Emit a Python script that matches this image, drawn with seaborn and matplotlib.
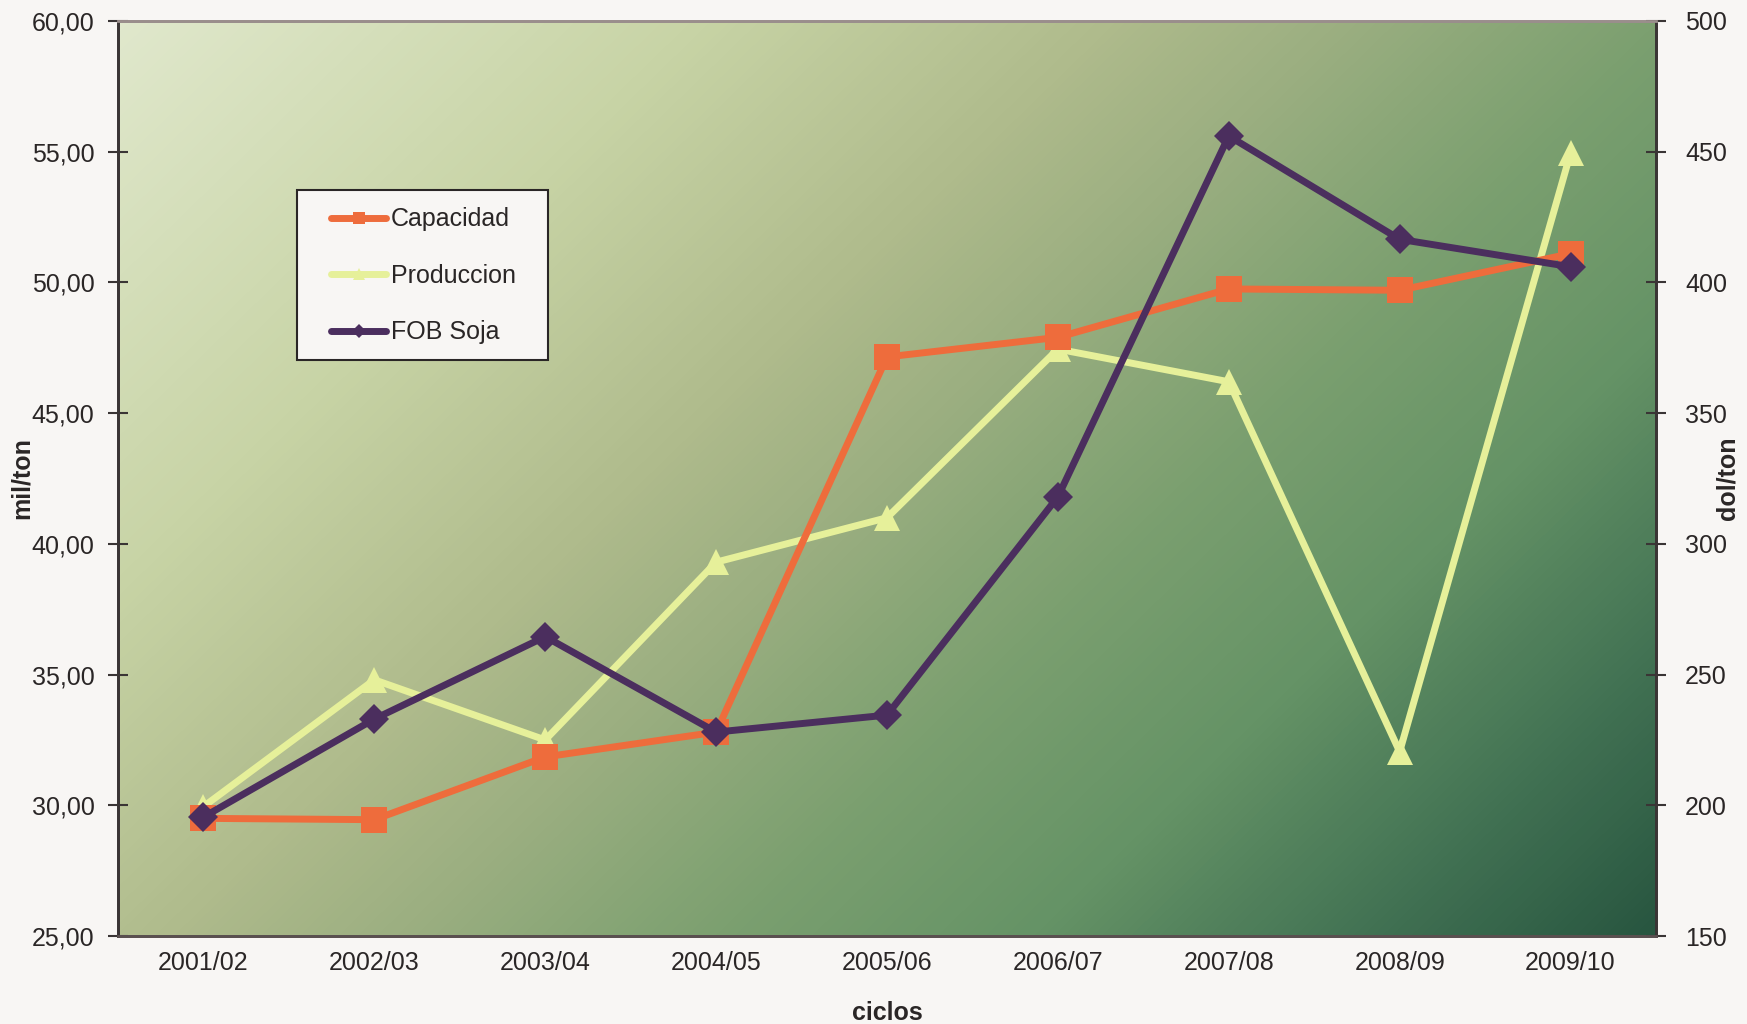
import numpy as np
import pandas as pd
import matplotlib
matplotlib.use("Agg")
import matplotlib.pyplot as plt
from matplotlib.colors import LinearSegmentedColormap
from matplotlib.lines import Line2D
from matplotlib.patches import Rectangle
import seaborn as sns

ciclos = ["2001/02", "2002/03", "2003/04", "2004/05", "2005/06",
          "2006/07", "2007/08", "2008/09", "2009/10"]
capacidad = [29.5, 29.45, 31.85, 32.8, 47.15, 47.9, 49.75, 49.7, 51.1]
produccion = [29.95, 34.8, 32.5, 39.3, 41.0, 47.45, 46.2, 32.05, 54.95]
fob_soja = [195.5, 233, 264.5, 228, 234.5, 318, 456, 416.5, 406]

left_ticks = [25, 30, 35, 40, 45, 50, 55, 60]
right_ticks = [150, 200, 250, 300, 350, 400, 450, 500]

sns.set_theme(style="white")
plt.rcParams['font.family'] = ['Liberation Sans', 'DejaVu Sans']

df = pd.DataFrame({"pos": np.arange(len(ciclos)), "ciclo": ciclos,
                   "Capacidad": capacidad, "Produccion": produccion,
                   "FOB Soja": fob_soja})

bg = "#f8f6f4"
c_cap = "#ee6c3c"
c_prod = "#e6f09a"
c_fob = "#4b2e5e"
tc = "#2a2626"
fs = 18

fig = plt.figure(figsize=(17.47, 10.24), dpi=100, facecolor=bg)
W, H = 1747, 1024
ax = fig.add_axes([118 / W, 1 - 936 / H, 1538 / W, 915 / H])
ax.set_facecolor(bg)

# gradient background
gx = np.linspace(0, 1, 400)
gy = np.linspace(0, 1, 300)
GX, GY = np.meshgrid(gx, gy)
T = 0.62 * GX + 0.38 * GY
cmap = LinearSegmentedColormap.from_list("g", [
    (0.0, "#e0e8cc"), (0.23, "#c8d4a6"), (0.4, "#afbb8c"), (0.5, "#9aae80"),
    (0.62, "#7ca070"), (0.75, "#659366"), (0.88, "#437354"), (1.0, "#285640")])
ax.imshow(T, extent=[-0.5, 8.5, 25, 60], origin="upper", aspect="auto",
          cmap=cmap, vmin=0, vmax=1, zorder=0, interpolation="bilinear")

sns.lineplot(data=df, x="pos", y="Capacidad", ax=ax, color=c_cap, lw=5,
             marker="s", markersize=19, markeredgewidth=0, zorder=3)
sns.lineplot(data=df, x="pos", y="Produccion", ax=ax, color=c_prod, lw=5,
             marker="^", markersize=19, markeredgewidth=0, zorder=2)
ax.set_xlim(-0.5, 8.5)
ax.set_ylim(25, 60)

ax2 = ax.twinx()
sns.lineplot(data=df, x="pos", y="FOB Soja", ax=ax2, color=c_fob, lw=5,
             marker="D", markersize=15, markeredgewidth=0, zorder=4)
ax2.set_ylim(150, 500)
ax2.set_xlim(-0.5, 8.5)

# ticks
ax.set_yticks(left_ticks)
ax.set_yticklabels([f"{v:.2f}".replace(".", ",") for v in left_ticks], fontsize=fs, color=tc)
ax2.set_yticks(right_ticks)
ax2.set_yticklabels([str(v) for v in right_ticks], fontsize=fs, color=tc)
ax.set_xticks(np.arange(len(ciclos)))
ax.set_xticklabels(ciclos, fontsize=fs, color=tc)
ax.set_xticks(np.arange(-0.5, 9, 1), minor=True)
ax.tick_params(axis="x", which="major", length=0, pad=11)
ax.tick_params(axis="x", which="minor", direction="inout", length=14, width=1.5, color="#4a4444")
ax.tick_params(axis="y", direction="inout", length=14, width=1.5, color="#3a3535", pad=10)
ax2.tick_params(axis="y", direction="inout", length=14, width=1.5, color="#3a3535", pad=14)

for a in (ax, ax2):
    for s in a.spines.values():
        s.set_visible(True)
        s.set_color("#3a3535")
        s.set_linewidth(2)
    a.spines["top"].set_color("#9a8e8c")
    a.spines["bottom"].set_color("#5a5050")

ax.set_xlabel("ciclos", fontsize=fs, fontweight="bold", color=tc)
ax.xaxis.set_label_coords(0.5, -0.071)
ax.set_ylabel("mil/ton", fontsize=fs, fontweight="bold", color=tc)
ax.yaxis.set_label_coords(-0.055, 0.5)
ax2.set_ylabel("dol/ton", fontsize=fs, fontweight="bold", color=tc, rotation=90)
ax2.yaxis.set_label_coords(1.039, 0.5)

# legend frame
ax2.add_patch(Rectangle((0.1164, 0.6295), 0.2796 - 0.1164, 0.8153 - 0.6295,
                        transform=ax2.transAxes, facecolor=bg, edgecolor=tc,
                        lw=1.5, zorder=5))
handles = [
    Line2D([], [], color=c_cap, lw=5, marker="s", markersize=9, markeredgewidth=0),
    Line2D([], [], color=c_prod, lw=5, marker="^", markersize=9, markeredgewidth=0),
    Line2D([], [], color=c_fob, lw=5, marker="D", markersize=7, markeredgewidth=0),
]
leg = ax2.legend(handles, ["Capacidad", "Produccion", "FOB Soja"],
                 loc="upper left", bbox_to_anchor=(0.1385, 0.7962),
                 fontsize=fs, frameon=False, labelspacing=1.3,
                 handlelength=2.2, handletextpad=0.2, borderpad=0,
                 borderaxespad=0)
leg.set_zorder(6)
for t in leg.get_texts():
    t.set_color(tc)

fig.savefig("out.png", dpi=100, facecolor=bg)
